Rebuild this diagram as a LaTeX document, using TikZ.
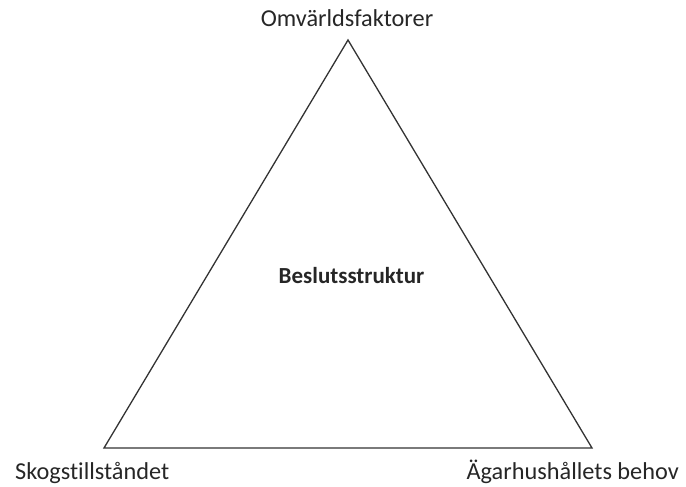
\documentclass[tikz,border=0pt]{standalone}
\usepackage{fontspec}
\setmainfont[Ligatures={NoCommon}]{Carlito}
\begin{document}
\begin{tikzpicture}[x=1pt,y=-1pt,
  lbl/.style={inner sep=0pt, font=\fontsize{24.3}{28}\selectfont, text=black!85},
  edge/.style={draw=black!80, line width=1.3pt, line join=miter}]
\useasboundingbox (0,0) rectangle (686,487);
\coordinate (top) at (348,40);
\coordinate (bl) at (104,448);
\coordinate (br) at (592,448);
\draw[edge] (top) -- (bl) -- (br) -- cycle;
\node[lbl, anchor=base] (omv) at (347,27) {Omvärldsfaktorer};
\node[lbl, anchor=base west] (skog) at (15,479) {Skogstillståndet};
\node[lbl, anchor=base east] (agar) at (679,479) {Ägarhushållets behov};
\node[lbl, anchor=base, font=\fontsize{23}{28}\selectfont\bfseries] (bes) at (351.5,283) {Beslutsstruktur};
\end{tikzpicture}
\end{document}
